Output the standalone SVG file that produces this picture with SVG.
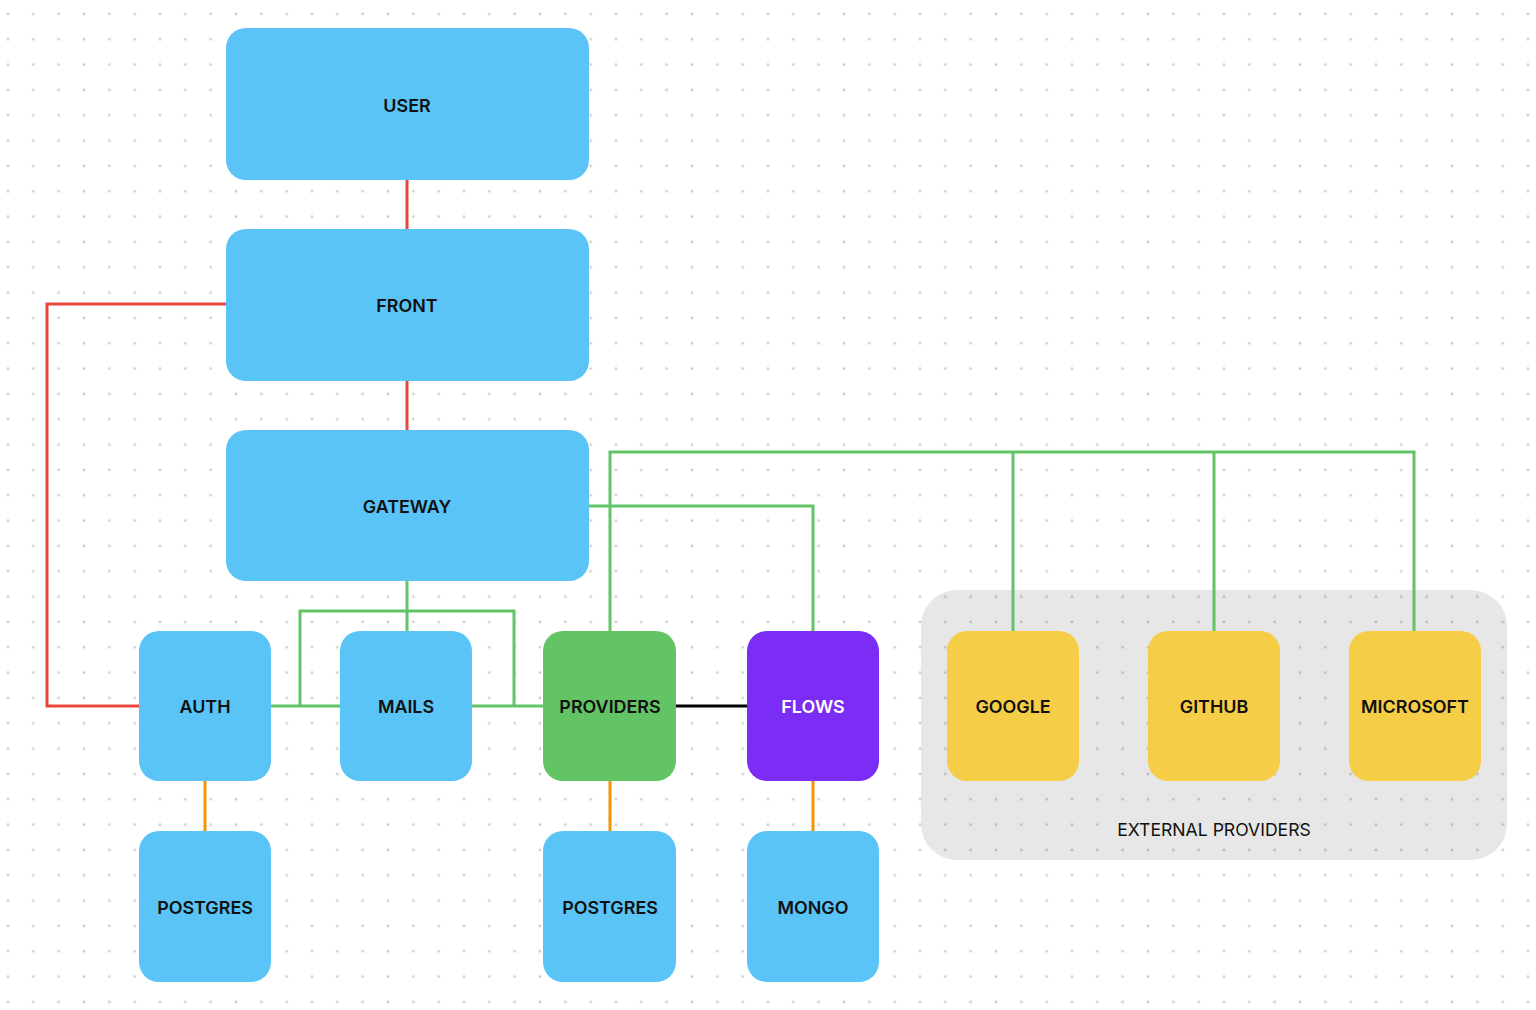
<svg xmlns="http://www.w3.org/2000/svg" width="1536" height="1010" viewBox="0 0 1536 1010">
<defs>
<pattern id="dots" x="8" y="14" width="25.333" height="25.333" patternUnits="userSpaceOnUse">
<circle cx="0" cy="0" r="1.4" fill="#cfcfcf"/>
<circle cx="25.333" cy="0" r="1.4" fill="#cfcfcf"/>
<circle cx="0" cy="25.333" r="1.4" fill="#cfcfcf"/>
<circle cx="25.333" cy="25.333" r="1.4" fill="#cfcfcf"/>
</pattern>
</defs>
<style>
.n{fill:#5AC4F6}
.t{font-family:Inter,"Liberation Sans",sans-serif;font-size:17.9px;font-weight:600;fill:#111;text-anchor:middle}
.l{fill:none;stroke-width:3}
.r{stroke:#E8473C}.g{stroke:#63C466}.o{stroke:#F0940A}.k{stroke:#000}
</style>
<rect width="1536" height="1010" fill="#fff"/>
<rect width="1536" height="1010" fill="url(#dots)"/>
<g id="external-providers">
<rect x="921" y="590" width="586" height="270" rx="36" fill="#000" fill-opacity="0.095"/>
<text x="1214" y="835.5" style="font-family:Inter,'Liberation Sans',sans-serif;font-size:17.6px;fill:#111;text-anchor:middle">EXTERNAL PROVIDERS</text>
</g>
<g id="connectors">
<path class="l r" d="M407 180V229M407 381V430M226 304H47V706H139"/>
<path class="l g" d="M407 581V631M300 706V611H514V706M271 706H340M472 706H543M589 506H813V631M610 631V452H1414V631M1013 452V631M1214 452V631"/>
<path class="l k" d="M676 706H747"/>
<path class="l o" d="M205 781V831M610 781V831M813 781V831"/>
</g>
<g id="user"><rect class="n" x="226" y="28" width="363" height="152" rx="20"/><text class="t" x="407" y="111.5">USER</text></g>
<g id="front"><rect class="n" x="226" y="229" width="363" height="152" rx="20"/><text class="t" x="407" y="311.5">FRONT</text></g>
<g id="gateway"><rect class="n" x="226" y="430" width="363" height="151" rx="20"/><text class="t" x="407" y="512.5">GATEWAY</text></g>
<g id="auth"><rect class="n" x="139" y="631" width="132" height="150" rx="20"/><text class="t" x="205" y="713">AUTH</text></g>
<g id="mails"><rect class="n" x="340" y="631" width="132" height="150" rx="20"/><text class="t" x="406" y="713">MAILS</text></g>
<g id="providers"><rect x="543" y="631" width="133" height="150" rx="20" fill="#63C466"/><text class="t" x="610" y="713">PROVIDERS</text></g>
<g id="flows"><rect x="747" y="631" width="132" height="150" rx="20" fill="#7B2CF5"/><text class="t" x="813" y="713" style="fill:#fff">FLOWS</text></g>
<g id="google"><rect x="947" y="631" width="132" height="150" rx="20" fill="#F6CD47"/><text class="t" x="1013" y="712.5">GOOGLE</text></g>
<g id="github"><rect x="1148" y="631" width="132" height="150" rx="20" fill="#F6CD47"/><text class="t" x="1214" y="712.5">GITHUB</text></g>
<g id="microsoft"><rect x="1349" y="631" width="132" height="150" rx="20" fill="#F6CD47"/><text class="t" x="1415" y="712.5">MICROSOFT</text></g>
<g id="postgres-auth"><rect class="n" x="139" y="831" width="132" height="151" rx="20"/><text class="t" x="205" y="913.5">POSTGRES</text></g>
<g id="postgres-providers"><rect class="n" x="543" y="831" width="133" height="151" rx="20"/><text class="t" x="610" y="913.5">POSTGRES</text></g>
<g id="mongo"><rect class="n" x="747" y="831" width="132" height="151" rx="20"/><text class="t" x="813" y="913.5">MONGO</text></g>
</svg>
